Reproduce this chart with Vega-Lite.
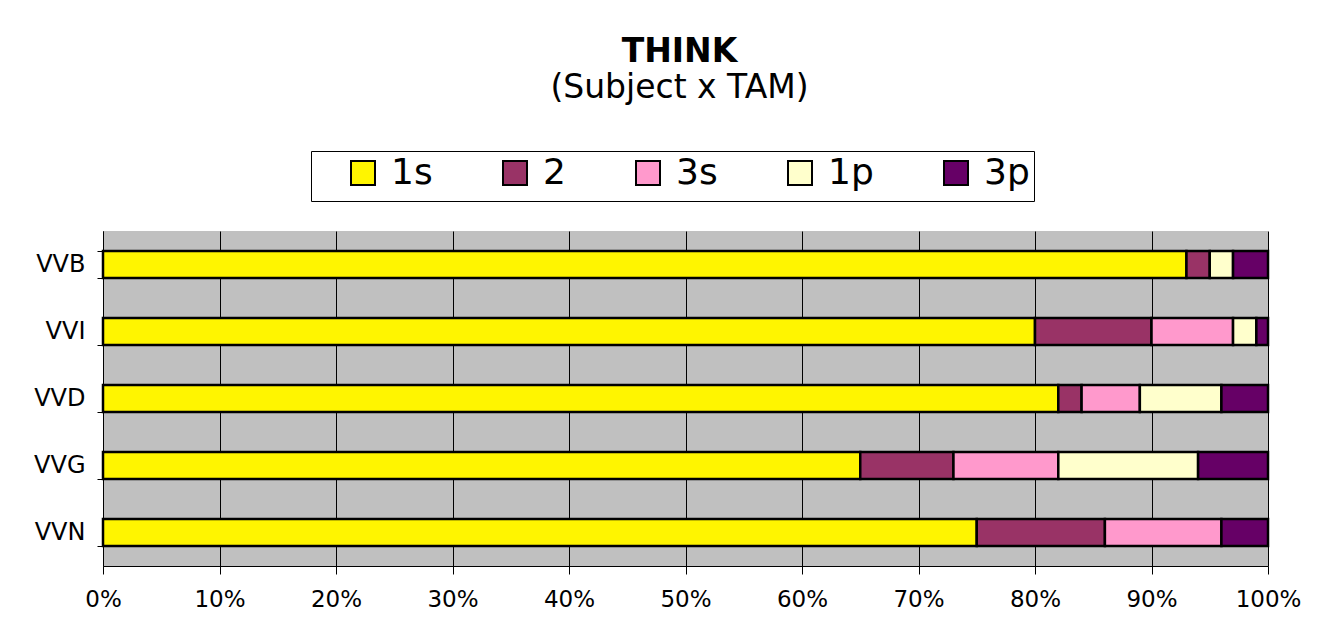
{
  "$schema": "https://vega.github.io/schema/vega-lite/v6.json",
  "width": 1165,
  "height": 335,
  "autosize": "none",
  "padding": {"left": 103, "top": 231, "right": 73, "bottom": 73},
  "background": "white",
  "title": {
    "text": "THINK",
    "subtitle": "(Subject x TAM)",
    "anchor": "middle",
    "font": "DejaVu Sans",
    "fontSize": 33,
    "fontWeight": "bold",
    "color": "black",
    "subtitleFont": "DejaVu Sans",
    "subtitleFontSize": 33,
    "subtitleColor": "black",
    "subtitlePadding": 3,
    "dx": -6,
    "offset": 46
  },
  "data": {
    "values": [
      {"subject": "VVB", "tam": "1s", "seq": 1, "pct": 93},
      {"subject": "VVB", "tam": "2", "seq": 2, "pct": 2},
      {"subject": "VVB", "tam": "1p", "seq": 4, "pct": 2},
      {"subject": "VVB", "tam": "3p", "seq": 5, "pct": 3},
      {"subject": "VVI", "tam": "1s", "seq": 1, "pct": 80},
      {"subject": "VVI", "tam": "2", "seq": 2, "pct": 10},
      {"subject": "VVI", "tam": "3s", "seq": 3, "pct": 7},
      {"subject": "VVI", "tam": "1p", "seq": 4, "pct": 2},
      {"subject": "VVI", "tam": "3p", "seq": 5, "pct": 1},
      {"subject": "VVD", "tam": "1s", "seq": 1, "pct": 82},
      {"subject": "VVD", "tam": "2", "seq": 2, "pct": 2},
      {"subject": "VVD", "tam": "3s", "seq": 3, "pct": 5},
      {"subject": "VVD", "tam": "1p", "seq": 4, "pct": 7},
      {"subject": "VVD", "tam": "3p", "seq": 5, "pct": 4},
      {"subject": "VVG", "tam": "1s", "seq": 1, "pct": 65},
      {"subject": "VVG", "tam": "2", "seq": 2, "pct": 8},
      {"subject": "VVG", "tam": "3s", "seq": 3, "pct": 9},
      {"subject": "VVG", "tam": "1p", "seq": 4, "pct": 12},
      {"subject": "VVG", "tam": "3p", "seq": 5, "pct": 6},
      {"subject": "VVN", "tam": "1s", "seq": 1, "pct": 75},
      {"subject": "VVN", "tam": "2", "seq": 2, "pct": 11},
      {"subject": "VVN", "tam": "3s", "seq": 3, "pct": 10},
      {"subject": "VVN", "tam": "3p", "seq": 5, "pct": 4}
    ]
  },
  "mark": {"type": "bar", "stroke": "black", "strokeWidth": 2.5},
  "encoding": {
    "y": {
      "field": "subject",
      "type": "nominal",
      "sort": ["VVB", "VVI", "VVD", "VVG", "VVN"],
      "scale": {"paddingInner": 0.6, "paddingOuter": 0.3},
      "axis": {
        "title": null,
        "tickBand": "extent",
        "ticks": true,
        "tickSize": 6,
        "tickColor": "black",
        "domain": true,
        "domainColor": "black",
        "labelFont": "DejaVu Sans",
        "labelFontSize": 24,
        "labelColor": "black",
        "labelPadding": 12
      }
    },
    "x": {
      "field": "pct",
      "type": "quantitative",
      "stack": "normalize",
      "scale": {"domain": [0, 1], "nice": false},
      "axis": {
        "title": null,
        "format": ".0%",
        "values": [0, 0.1, 0.2, 0.3, 0.4, 0.5, 0.6, 0.7, 0.8, 0.9, 1],
        "grid": true,
        "gridColor": "black",
        "gridWidth": 1,
        "gridOpacity": 1,
        "ticks": true,
        "tickSize": 8,
        "tickColor": "black",
        "domain": true,
        "domainColor": "black",
        "labelFont": "DejaVu Sans",
        "labelFontSize": 23,
        "labelColor": "black",
        "labelPadding": 14,
        "labelFlush": false,
        "labelOverlap": false
      }
    },
    "order": {"field": "seq", "type": "quantitative", "sort": "ascending"},
    "color": {
      "field": "tam",
      "type": "nominal",
      "sort": ["1s", "2", "3s", "1p", "3p"],
      "scale": {
        "domain": ["1s", "2", "3s", "1p", "3p"],
        "range": ["#FFF500", "#993366", "#FF99CC", "#FFFFCC", "#660066"]
      },
      "legend": {
        "orient": "none",
        "legendX": 208,
        "legendY": -80,
        "direction": "horizontal",
        "title": ["\u00a0", "\u00a0"],
        "titleOrient": "left",
        "titleFontSize": 20,
        "titleLineHeight": 27,
        "titlePadding": 30,
        "padding": 4,
        "strokeColor": "black",
        "fillColor": "white",
        "symbolType": "square",
        "symbolSize": 576,
        "symbolStrokeColor": "black",
        "symbolStrokeWidth": 2,
        "symbolOpacity": 1,
        "labelFont": "DejaVu Sans",
        "labelFontSize": 36,
        "labelColor": "black",
        "labelOffset": 10,
        "columnPadding": 64
      }
    }
  },
  "config": {
    "view": {"fill": "#C0C0C0", "stroke": null},
    "axis": {"domainWidth": 1, "tickWidth": 1}
  }
}
